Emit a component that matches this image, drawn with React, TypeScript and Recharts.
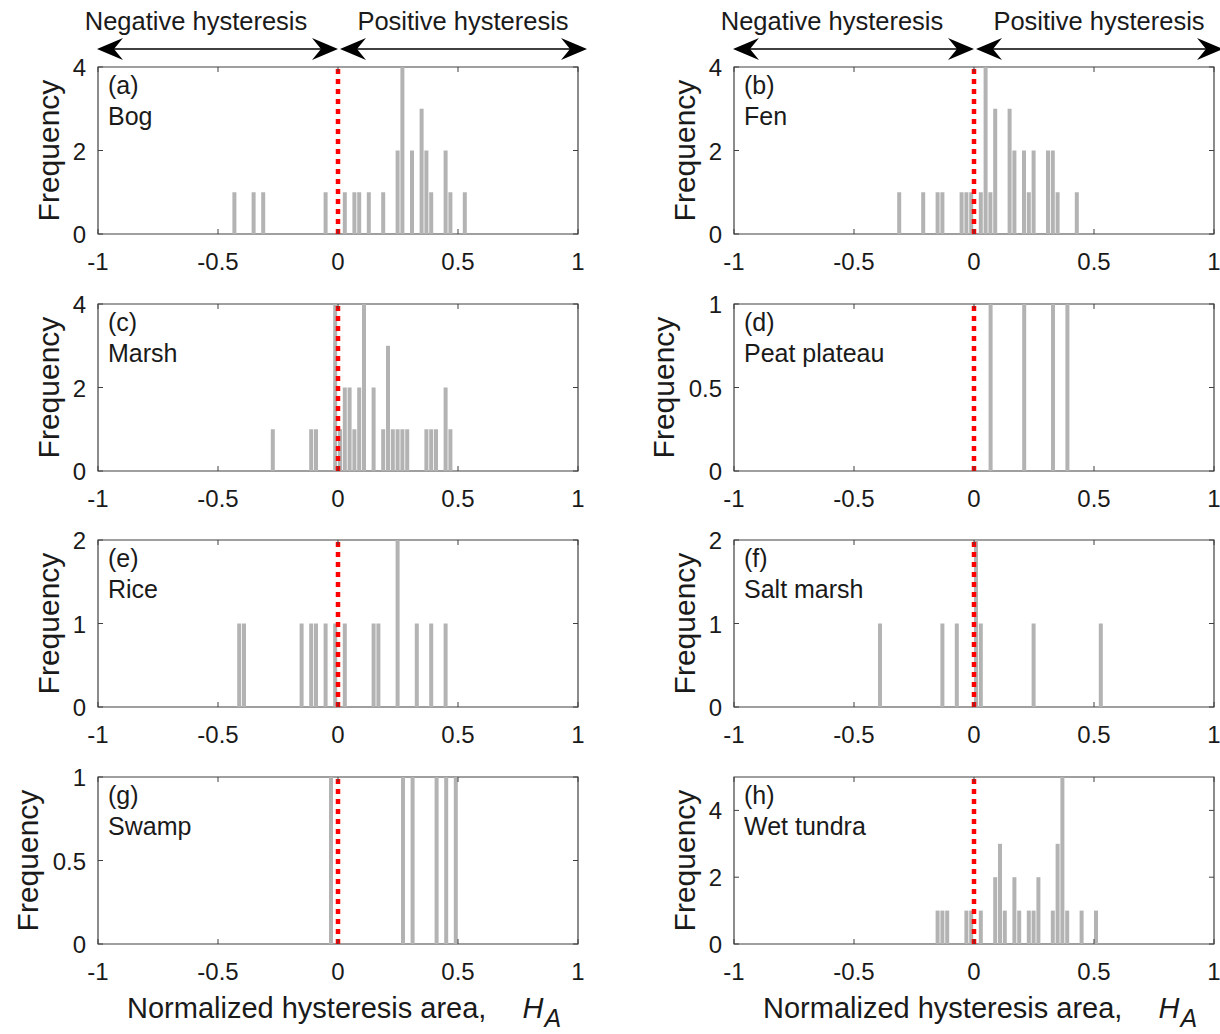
import React from 'react'
import { BarChart, Bar, XAxis, YAxis, ReferenceLine, ReferenceArea } from 'recharts'

const FONT = '"Liberation Sans", Arial, Helvetica, sans-serif'
const BAR_GRAY = '#b3b3b3'
const AXIS_COLOR = '#404040'
const TEXT_COLOR = '#1a1a1a'

const X_TICKS = [-1, -0.5, 0, 0.5, 1]

// histogram bins: [bin centre of H_A, count]
const bogBins: [number, number][] = [
  [-0.43, 1], [-0.35, 1], [-0.31, 1], [-0.05, 1], [0.03, 1], [0.07, 1], [0.09, 1], [0.13, 1], [0.19, 1],
  [0.25, 2], [0.27, 4], [0.31, 2], [0.35, 3], [0.37, 2], [0.39, 1], [0.45, 2], [0.47, 1], [0.53, 1]
]
const fenBins: [number, number][] = [
  [-0.31, 1], [-0.21, 1], [-0.15, 1], [-0.13, 1], [-0.05, 1], [-0.03, 1], [-0.01, 1], [0.03, 1], [0.05, 4],
  [0.07, 1], [0.09, 3], [0.15, 3], [0.17, 2], [0.21, 2], [0.23, 1], [0.25, 2], [0.31, 2], [0.33, 2],
  [0.35, 1], [0.43, 1]
]
const marshBins: [number, number][] = [
  [-0.27, 1], [-0.11, 1], [-0.09, 1], [-0.01, 4], [0.01, 1], [0.03, 2], [0.05, 2], [0.07, 1], [0.09, 2],
  [0.11, 4], [0.15, 2], [0.19, 1], [0.21, 3], [0.23, 1], [0.25, 1], [0.27, 1], [0.29, 1], [0.37, 1],
  [0.39, 1], [0.41, 1], [0.45, 2], [0.47, 1]
]
const peatPlateauBins: [number, number][] = [[0.07, 1], [0.21, 1], [0.33, 1], [0.39, 1]]
const riceBins: [number, number][] = [
  [-0.41, 1], [-0.39, 1], [-0.15, 1], [-0.11, 1], [-0.09, 1], [-0.05, 1], [-0.01, 1], [0.03, 1],
  [0.15, 1], [0.17, 1], [0.25, 2], [0.33, 1], [0.39, 1], [0.45, 1]
]
const saltMarshBins: [number, number][] = [
  [-0.39, 1], [-0.13, 1], [-0.07, 1], [0.01, 2], [0.03, 1], [0.25, 1], [0.53, 1]
]
const swampBins: [number, number][] = [[-0.03, 1], [0.27, 1], [0.31, 1], [0.41, 1], [0.45, 1], [0.49, 1]]
const wetTundraBins: [number, number][] = [
  [-0.15, 1], [-0.13, 1], [-0.11, 1], [-0.03, 1], [-0.01, 1], [0.03, 1], [0.09, 2], [0.11, 3], [0.13, 1],
  [0.17, 2], [0.19, 1], [0.23, 1], [0.25, 1], [0.27, 2], [0.33, 1], [0.35, 3], [0.37, 5], [0.39, 1],
  [0.45, 1], [0.51, 1]
]

const ticks4 = [0, 2, 4]
const ticks2 = [0, 1, 2]
const ticks1 = [0, 0.5, 1]
const ticks5 = [0, 2, 4]

const panels = [
  { tag: '(a)', name: 'Bog', bins: bogBins, yTicks: ticks4, yMax: 4 },
  { tag: '(b)', name: 'Fen', bins: fenBins, yTicks: ticks4, yMax: 4 },
  { tag: '(c)', name: 'Marsh', bins: marshBins, yTicks: ticks4, yMax: 4 },
  { tag: '(d)', name: 'Peat plateau', bins: peatPlateauBins, yTicks: ticks1, yMax: 1 },
  { tag: '(e)', name: 'Rice', bins: riceBins, yTicks: ticks2, yMax: 2 },
  { tag: '(f)', name: 'Salt marsh', bins: saltMarshBins, yTicks: ticks2, yMax: 2 },
  { tag: '(g)', name: 'Swamp', bins: swampBins, yTicks: ticks1, yMax: 1 },
  { tag: '(h)', name: 'Wet tundra', bins: wetTundraBins, yTicks: ticks5, yMax: 5 }
]

// layout
const PLOT_W = 480
const PLOT_H = 167
const COL_X = [98, 734]
const ROW_Y = [67, 304, 540, 777]
const Y_AXIS_W = 100
const X_AXIS_H = 50
const TOP_PAD = 22
const RIGHT_PAD = 6

function Panel({ tag, name, bins, yTicks, yMax, left, top }: any) {
  const data = bins.map(([h, n]: [number, number]) => ({ h, n }))

  const XTick = ({ x, y, payload }: any) => (
    <g>
      <line x1={x} x2={x} y1={y} y2={y - 5} stroke={AXIS_COLOR} />
      <line x1={x} x2={x} y1={y - PLOT_H} y2={y - PLOT_H + 5} stroke={AXIS_COLOR} />
      <text x={x} y={y + 36} textAnchor="middle" fontSize={24} fill={TEXT_COLOR} fontFamily={FONT}>
        {String(payload.value)}
      </text>
    </g>
  )

  const YTick = ({ x, y, payload }: any) => (
    <g>
      <line x1={x} x2={x + 5} y1={y} y2={y} stroke={AXIS_COLOR} />
      <line x1={x + PLOT_W} x2={x + PLOT_W - 5} y1={y} y2={y} stroke={AXIS_COLOR} />
      <text x={x - 12} y={y + 9} textAnchor="end" fontSize={24} fill={TEXT_COLOR} fontFamily={FONT}>
        {String(payload.value)}
      </text>
    </g>
  )

  const hasDecimals = yTicks.some((t: number) => !Number.isInteger(t))
  const ylabelX = left - (hasDecimals ? 71 : 50)

  return (
    <>
      <div style={{ position: 'absolute', left: left - Y_AXIS_W, top: top - TOP_PAD }}>
        <BarChart
          width={Y_AXIS_W + PLOT_W + RIGHT_PAD}
          height={TOP_PAD + PLOT_H + X_AXIS_H}
          data={data}
          margin={{ top: TOP_PAD, right: RIGHT_PAD, left: 0, bottom: 0 }}
        >
          <XAxis
            type="number"
            dataKey="h"
            domain={[-1, 1]}
            ticks={X_TICKS}
            interval={0}
            height={X_AXIS_H}
            axisLine={false}
            tickLine={false}
            tickSize={0}
            tickMargin={0}
            tick={(p: any) => <XTick {...p} />}
          />
          <YAxis
            type="number"
            domain={[0, yMax]}
            ticks={yTicks}
            interval={0}
            width={Y_AXIS_W}
            axisLine={false}
            tickLine={false}
            tickSize={0}
            tickMargin={0}
            tick={(p: any) => <YTick {...p} />}
          />
          <ReferenceArea x1={-1} x2={1} y1={0} y2={yMax} fill="none" stroke={AXIS_COLOR} strokeWidth={1.2} />
          <Bar dataKey="n" fill={BAR_GRAY} barSize={4} isAnimationActive={false} />
          <ReferenceLine x={0} stroke="#ff0000" strokeWidth={4.5} strokeDasharray="5 5" />
        </BarChart>
      </div>
      <div
        style={{
          position: 'absolute', left: left + 10, top: top + 3, fontFamily: FONT, fontSize: 25,
          lineHeight: '31px', color: TEXT_COLOR, whiteSpace: 'pre'
        }}
      >
        <div>{tag}</div>
        <div>{name}</div>
      </div>
      <svg style={{ position: 'absolute', left: 0, top: 0, overflow: 'visible' }} width={1} height={1}>
        <text
          x={ylabelX}
          y={top + PLOT_H / 2}
          transform={`rotate(-90 ${ylabelX} ${top + PLOT_H / 2})`}
          textAnchor="middle"
          dominantBaseline="central"
          fontSize={30}
          fill={TEXT_COLOR}
          fontFamily={FONT}
        >
          Frequency
        </text>
      </svg>
    </>
  )
}

// double arrow with MATLAB style "vback" heads
function arrowHead(tipX: number, y: number, dir: number) {
  const L = 26
  const W = 11
  const notch = 17
  return `${tipX},${y} ${tipX + dir * L},${y - W} ${tipX + dir * notch},${y} ${tipX + dir * L},${y + W}`
}

function DoubleArrow({ x1, x2, y }: any) {
  return (
    <g>
      <line x1={x1 + 10} x2={x2 - 10} y1={y} y2={y} stroke="#000" strokeWidth={1.5} />
      <polygon points={arrowHead(x1, y, 1)} fill="#000" />
      <polygon points={arrowHead(x2, y, -1)} fill="#000" />
    </g>
  )
}

export default function App() {
  return (
    <div style={{ position: 'absolute', left: 0, top: 0, width: 1220, height: 1034, overflow: 'hidden', background: '#fff' }}>
      {panels.map((p, i) => (
        <Panel key={p.tag} {...p} left={COL_X[i % 2]} top={ROW_Y[Math.floor(i / 2)]} />
      ))}
      <svg style={{ position: 'absolute', left: 0, top: 0 }} width={1220} height={1034}>
        {COL_X.map((cx) => (
          <g key={cx} fontFamily={FONT} fill={TEXT_COLOR}>
            <text x={cx + 98} y={30} fontSize={25.5} textAnchor="middle">Negative hysteresis</text>
            <text x={cx + 365} y={30} fontSize={25.5} textAnchor="middle">Positive hysteresis</text>
            <DoubleArrow x1={cx - 1} x2={cx + 240} y={49} />
            <DoubleArrow x1={cx + 242} x2={cx + 489} y={49} />
            <text x={cx + 29} y={1018} fontSize={29}>
              Normalized hysteresis area,
              <tspan fontStyle="italic" dx={36}>H</tspan>
              <tspan fontStyle="italic" fontSize={25} dx={1} dy={9}>A</tspan>
            </text>
          </g>
        ))}
      </svg>
    </div>
  )
}
